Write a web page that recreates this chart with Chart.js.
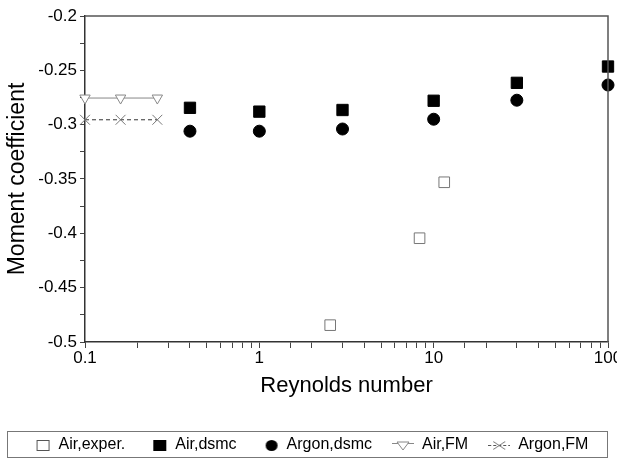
<!DOCTYPE html>
<html>
<head>
<meta charset="utf-8">
<script src="https://cdn.jsdelivr.net/npm/chart.js@4.4.1/dist/chart.umd.min.js"></script>
<style>
  html, body { margin: 0; padding: 0; background: #fff; }
  #wrap { width: 617px; height: 463px; }
</style>
</head>
<body>
<div id="wrap"><canvas id="c"></canvas></div>
<script>
// Data
const reAirExp = [2.55, 8.3, 11.5];
const cmAirExp = [-0.4845, -0.4045, -0.353];
const reDsmc = [0.4, 1, 3, 10, 30, 100];
const cmAirDsmc = [-0.2845, -0.288, -0.2865, -0.278, -0.2615, -0.2465];
const cmArgonDsmc = [-0.306, -0.306, -0.304, -0.295, -0.2775, -0.2635];
const reFM = [0.1, 0.16, 0.26];
const cmAirFM = [-0.2755, -0.2755, -0.2755];
const cmArgonFM = [-0.2955, -0.2955, -0.2955];
const xLabelled = [0.1, 1, 10, 100];
const seriesNames = ['Air,exper.', 'Air,dsmc', 'Argon,dsmc', 'Air,FM', 'Argon,FM'];

const FONT = "Arial, 'Liberation Sans', sans-serif";
Chart.defaults.font.family = FONT;
Chart.defaults.color = '#000';

const pts = (xs, ys) => xs.map((x, i) => ({ x: x, y: ys[i] }));

// small legend icons (22 px wide, marker sits at the right so text follows closely)
const makeIcon = (draw) => {
  const c = document.createElement('canvas');
  c.width = 22; c.height = 14;
  const g = c.getContext('2d');
  draw(g);
  return c;
};
const icons = [
  makeIcon(g => { g.strokeStyle = '#555'; g.lineWidth = 1; g.strokeRect(8.5, 2.5, 12, 10); }),
  makeIcon(g => { g.fillStyle = '#000'; g.fillRect(8, 2, 13, 11); }),
  makeIcon(g => { g.fillStyle = '#000'; g.beginPath(); g.ellipse(15, 7.5, 6, 5.5, 0, 0, Math.PI * 2); g.fill(); }),
  makeIcon(g => {
    g.strokeStyle = '#888'; g.lineWidth = 1;
    g.beginPath(); g.moveTo(0, 5.5); g.lineTo(22, 5.5); g.stroke();
    g.beginPath(); g.moveTo(5, 4); g.lineTo(17, 4); g.lineTo(11, 12); g.closePath();
    g.fillStyle = '#fff'; g.fill(); g.stroke();
  }),
  makeIcon(g => {
    g.strokeStyle = '#555'; g.lineWidth = 1; g.setLineDash([3, 2]);
    g.beginPath(); g.moveTo(0, 7.5); g.lineTo(22, 7.5); g.stroke();
    g.setLineDash([]); g.strokeStyle = '#777';
    g.beginPath(); g.moveTo(5, 3.5); g.lineTo(17, 11.5); g.moveTo(17, 3.5); g.lineTo(5, 11.5); g.stroke();
  })
];

// frame on top/right of plot + border round the legend
const framePlugin = {
  id: 'frame',
  afterDraw(chart) {
    const { ctx, chartArea: a } = chart;
    ctx.save();
    ctx.strokeStyle = '#555';
    ctx.lineWidth = 1.5;
    ctx.beginPath();
    ctx.moveTo(a.left, a.top); ctx.lineTo(a.right, a.top); ctx.lineTo(a.right, a.bottom);
    ctx.stroke();
    const hb = chart.legend.legendHitBoxes;
    if (hb && hb.length) {
      const top = Math.min(...hb.map(b => b.top));
      const bot = Math.max(...hb.map(b => b.top + b.height));
      ctx.strokeStyle = '#777';
      ctx.lineWidth = 1;
      ctx.strokeRect(7.5, Math.round(top) - 5.5, 600, Math.round(bot - top) + 10);
    }
    ctx.restore();
  }
};

const isDecade = v => Math.abs(Math.log10(v) - Math.round(Math.log10(v))) < 1e-9;

new Chart(document.getElementById('c'), {
  type: 'scatter',
  data: {
    datasets: [
      {
        label: seriesNames[0], data: pts(reAirExp, cmAirExp),
        pointStyle: 'rect', pointRadius: 7.5, backgroundColor: '#fff', borderColor: '#777', borderWidth: 1
      },
      {
        label: seriesNames[1], data: pts(reDsmc, cmAirDsmc),
        pointStyle: 'rect', pointRadius: 8, backgroundColor: '#000', borderColor: '#000', borderWidth: 1
      },
      {
        label: seriesNames[2], data: pts(reDsmc, cmArgonDsmc),
        pointStyle: 'circle', pointRadius: 6, backgroundColor: '#000', borderColor: '#000', borderWidth: 1
      },
      {
        label: seriesNames[3], data: pts(reFM, cmAirFM), showLine: true,
        borderColor: '#888', borderWidth: 1, backgroundColor: '#fff',
        pointStyle: 'triangle', pointRotation: 180, pointRadius: 6,
        pointBorderColor: '#888', pointBackgroundColor: '#fff'
      },
      {
        label: seriesNames[4], data: pts(reFM, cmArgonFM), showLine: true,
        borderColor: '#333', borderWidth: 1, borderDash: [4, 3],
        pointStyle: 'crossRot', pointRadius: 7, pointBorderColor: '#777', pointBorderWidth: 1
      }
    ]
  },
  options: {
    responsive: true,
    maintainAspectRatio: false,
    animation: false,
    clip: false,
    layout: { padding: { top: 16, right: 0, left: 0, bottom: 0 } },
    plugins: {
      tooltip: { enabled: false },
      legend: {
        position: 'bottom',
        labels: {
          usePointStyle: true,
          pointStyleWidth: 22,
          padding: 20,
          font: { size: 16 },
          color: '#000',
          generateLabels: (chart) => chart.data.datasets.map((ds, i) => ({
            text: ds.label, pointStyle: icons[i], datasetIndex: i, hidden: false,
            lineWidth: 0, strokeStyle: 'transparent', fillStyle: 'transparent'
          }))
        }
      }
    },
    scales: {
      x: {
        type: 'logarithmic', min: 0.1, max: 100,
        grid: { drawOnChartArea: false, drawTicks: true, tickLength: 6, color: '#444' },
        border: { color: '#333', width: 1.5 },
        ticks: {
          autoSkip: false, maxRotation: 0, minRotation: 0, font: { size: 17 }, color: '#000', padding: 0,
          callback: v => isDecade(v) && xLabelled.some(d => Math.abs(d - v) < 1e-9) ? String(v) : ''
        },
        title: { display: true, text: 'Reynolds number', font: { size: 22 }, padding: { top: 0, bottom: 18 } },
        afterFit: s => { s.paddingRight = 8; s.height = 75; }
      },
      y: {
        min: -0.5, max: -0.2,
        grid: { drawOnChartArea: false, drawTicks: true, tickLength: 5, color: '#444' },
        border: { color: '#333', width: 1.5 },
        ticks: {
          stepSize: 0.025, font: { size: 17 }, color: '#000', padding: 3,
          callback: v => Math.abs(v * 20 - Math.round(v * 20)) < 1e-6 ? String(Math.round(v * 100) / 100) : ''
        },
        title: { display: true, text: 'Moment coefficient', font: { size: 23 }, padding: { top: 4, bottom: 0 } },
        afterFit: s => { s.width = 85; }
      }
    }
  },
  plugins: [framePlugin]
});
</script>
</body>
</html>
